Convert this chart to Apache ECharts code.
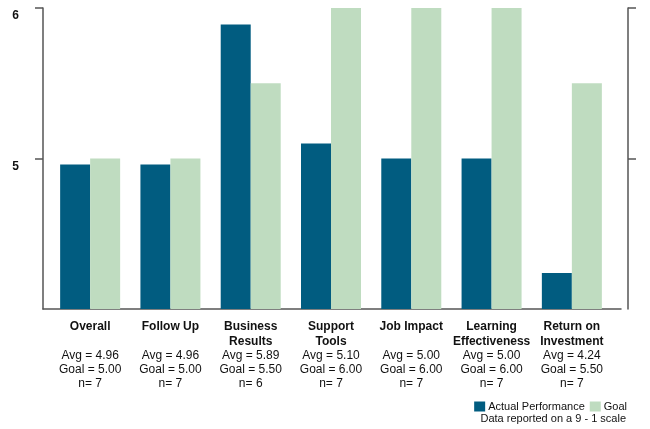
<!DOCTYPE html>
<html>
<head>
<meta charset="utf-8">
<script src="https://cdn.jsdelivr.net/npm/echarts@6/dist/echarts.min.js"></script>
<style>html,body{margin:0;padding:0;background:#fff;}#c{width:650px;height:429px;}</style>
</head>
<body>
<div id="c"></div>
<script>
const categories = ['Overall', 'Follow Up', 'Business\nResults', 'Support\nTools', 'Job Impact', 'Learning\nEffectiveness', 'Return on\nInvestment'];
const actualValues = [4.96, 4.96, 5.89, 5.10, 5.00, 5.00, 4.24];
const goalValues = [5.00, 5.00, 5.50, 6.00, 6.00, 6.00, 5.50];
const nValues = [7, 7, 6, 7, 7, 7, 7];
const yTicks = [5, 6];
const seriesNames = ['Actual Performance', 'Goal'];
const note = 'Data reported on a 9 - 1 scale';

const FONT = 'Arial, "Liberation Sans", sans-serif';
const chart = echarts.init(document.getElementById('c'), null, {renderer: 'canvas'});

function labelFor(value, idx) {
  const i = categories.indexOf(value);
  const lines = value.split('\n');
  while (lines.length < 2) lines.push(' ');
  const parts = lines.map(l => '{b|' + l + '}');
  parts.push('{n|Avg = ' + actualValues[i].toFixed(2) + '}');
  parts.push('{n|Goal = ' + goalValues[i].toFixed(2) + '}');
  parts.push('{n|n= ' + nValues[i] + '}');
  return parts.join('\n');
}

chart.setOption({
  backgroundColor: '#fff',
  animation: false,
  textStyle: {fontFamily: FONT},
  legend: {
    data: seriesNames,
    right: 23,
    top: 401,
    padding: 0,
    itemWidth: 11,
    itemHeight: 10,
    itemGap: 5,
    icon: 'rect',
    textStyle: {fontFamily: FONT, fontSize: 11, color: '#111', padding: [0, 0, 0, -2]}
  },
  title: {
    text: note,
    right: 24,
    top: 413,
    padding: 0,
    textStyle: {fontFamily: FONT, fontSize: 11, fontWeight: 'normal', color: '#111'}
  },
  grid: [
    {left: 43, right: 29, top: 8, bottom: 120},
    {left: 50, right: 38, top: 8, bottom: 120}
  ],
  xAxis: [
    {
      gridIndex: 0, type: 'category', data: categories,
      axisLine: {show: true, lineStyle: {color: '#555', width: 1.5}},
      axisTick: {show: false}, axisLabel: {show: false}, splitLine: {show: false}
    },
    {
      gridIndex: 1, type: 'category', data: categories,
      axisLine: {show: false}, axisTick: {show: false}, splitLine: {show: false},
      axisLabel: {
        margin: 10,
        interval: 0,
        color: '#111',
        formatter: labelFor,
        rich: {
          b: {fontFamily: FONT, fontSize: 12, fontWeight: 'bold', lineHeight: 14.8, color: '#111'},
          n: {fontFamily: FONT, fontSize: 12, lineHeight: 14.2, color: '#111'}
        }
      }
    }
  ],
  yAxis: [
    {
      gridIndex: 0, type: 'value', position: 'left', min: 4, max: 6, interval: 1,
      axisLine: {show: true, lineStyle: {color: '#555', width: 1.5}},
      axisTick: {show: true, length: 8, customValues: yTicks, lineStyle: {color: '#555', width: 1.5}},
      axisLabel: {show: true, customValues: yTicks, margin: 24, verticalAlign: 'top', lineHeight: 16,
        fontFamily: FONT, fontSize: 12, fontWeight: 'bold', color: '#111'},
      splitLine: {show: false}
    },
    {
      gridIndex: 0, type: 'value', position: 'right', offset: 7, min: 4, max: 6, interval: 1,
      axisLine: {show: true, lineStyle: {color: '#555', width: 1.5}},
      axisTick: {show: true, length: 8, customValues: yTicks, lineStyle: {color: '#555', width: 1.5}},
      axisLabel: {show: false},
      splitLine: {show: false}
    },
    {
      gridIndex: 1, type: 'value', min: 4, max: 6, interval: 1, show: false, splitLine: {show: false}
    }
  ],
  series: [
    {
      name: seriesNames[0], type: 'bar', xAxisIndex: 1, yAxisIndex: 2,
      data: actualValues, barWidth: 30, barGap: '0%',
      itemStyle: {color: '#015c80'}
    },
    {
      name: seriesNames[1], type: 'bar', xAxisIndex: 1, yAxisIndex: 2,
      data: goalValues, barWidth: 30, barGap: '0%',
      itemStyle: {color: '#bfdcc0'}
    }
  ]
});
</script>
</body>
</html>
